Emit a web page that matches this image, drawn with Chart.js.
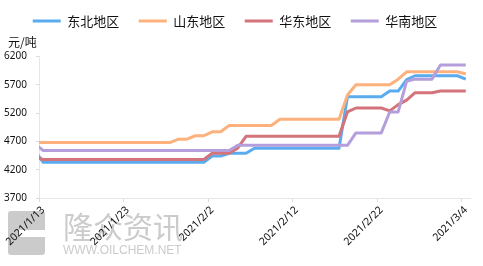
<!DOCTYPE html>
<html lang="zh">
<head>
<meta charset="UTF-8">
<title>地区价格走势</title>
<script src="https://cdn.jsdelivr.net/npm/chart.js"></script>
<style>
    * { margin: 0; padding: 0; box-sizing: border-box; }
    body { background: #fff; }
    .chart-box { position: relative; width: 483px; height: 266px; }
</style>
</head>
<body>
<div class="chart-box"><canvas id="priceChart"></canvas></div>
<script>
    // 日期（1/12 只用来画出左边被裁掉的那一小段）
    const dates = [
        '2021/1/12', '2021/1/13', '2021/1/14', '2021/1/15', '2021/1/16', '2021/1/17', '2021/1/18', '2021/1/19',
        '2021/1/20', '2021/1/21', '2021/1/22', '2021/1/23', '2021/1/24', '2021/1/25', '2021/1/26', '2021/1/27',
        '2021/1/28', '2021/1/29', '2021/1/30', '2021/1/31', '2021/2/1', '2021/2/2', '2021/2/3', '2021/2/4',
        '2021/2/5', '2021/2/6', '2021/2/7', '2021/2/8', '2021/2/9', '2021/2/10', '2021/2/11', '2021/2/12',
        '2021/2/13', '2021/2/14', '2021/2/15', '2021/2/16', '2021/2/17', '2021/2/18', '2021/2/19', '2021/2/20',
        '2021/2/21', '2021/2/22', '2021/2/23', '2021/2/24', '2021/2/25', '2021/2/26', '2021/2/27', '2021/2/28',
        '2021/3/1', '2021/3/2', '2021/3/3', '2021/3/4'
    ];

    // 价格 元/吨
    const dongbei = [
        4540,
        4330, 4330, 4330, 4330, 4330, 4330, 4330, 4330, 4330, 4330,
        4330, 4330, 4330, 4330, 4330, 4330, 4330, 4330, 4330, 4330,
        4440, 4440,
        4490, 4490, 4490,
        4580, 4580, 4580, 4580, 4580, 4580, 4580, 4580, 4580, 4580, 4580,
        5490, 5490, 5490, 5490, 5490,
        5590, 5590,
        5790,
        5860, 5860, 5860, 5860, 5860, 5860,
        5800
    ];
    const shandong = [
        4680,
        4680, 4680, 4680, 4680, 4680, 4680, 4680, 4680, 4680, 4680, 4680, 4680, 4680, 4680, 4680, 4680,
        4740, 4740,
        4800, 4800,
        4870, 4870,
        4980, 4980, 4980, 4980, 4980, 4980,
        5090, 5090, 5090, 5090, 5090, 5090, 5090, 5090,
        5520,
        5700, 5700, 5700, 5700, 5700,
        5800,
        5930, 5930, 5930, 5930, 5930, 5930, 5930,
        5890
    ];
    const huadong = [
        4420,
        4380, 4380, 4380, 4380, 4380, 4380, 4380, 4380, 4380, 4380,
        4380, 4380, 4380, 4380, 4380, 4380, 4380, 4380, 4380, 4380,
        4490, 4490, 4490,
        4580,
        4790, 4790, 4790, 4790, 4790, 4790, 4790, 4790, 4790, 4790, 4790, 4790,
        5220,
        5290, 5290, 5290, 5290,
        5240,
        5350,
        5430,
        5560, 5560, 5560,
        5590, 5590, 5590, 5590
    ];
    const huanan = [
        4660,
        4540, 4540, 4540, 4540, 4540, 4540, 4540, 4540, 4540, 4540, 4540, 4540,
        4540, 4540, 4540, 4540, 4540, 4540, 4540, 4540, 4540, 4540, 4540,
        4630, 4630, 4630, 4630, 4630, 4630, 4630, 4630, 4630, 4630, 4630, 4630, 4630, 4630,
        4850, 4850, 4850, 4850,
        5220, 5220,
        5760,
        5800, 5800, 5800,
        6050, 6050, 6050, 6050
    ];

    const seriesNames = ['东北地区', '山东地区', '华东地区', '华南地区'];
    const seriesColors = ['#5AACEE', '#FDB17D', '#D3737B', '#B49FDC'];
    const seriesData = [dongbei, shandong, huadong, huanan];

    Chart.defaults.font.family = "'Noto Sans', 'Noto Sans CJK SC', sans-serif";
    Chart.defaults.color = '#111';

    const tickGray = '#d9d9d9';
    const axisGray = '#e6e6e6';

    // 图例下面留出 "元/吨" 的位置
    const legendSpace = {
        id: 'legendSpace',
        beforeInit(chart) {
            const fit = chart.legend.fit;
            chart.legend.fit = function () {
                fit.bind(chart.legend)();
                this.height += 19;
            };
        }
    };

    // 水印和单位
    const extras = {
        id: 'extras',
        beforeDraw(chart) {
            const ctx = chart.ctx;
            ctx.save();
            ctx.fillStyle = '#cbcbcb';
            ctx.beginPath();
            ctx.roundRect(8, 211, 37, 44, 3);
            ctx.fill();
            ctx.fillStyle = '#fff';
            ctx.fillRect(19, 230, 26, 7);
            ctx.fillStyle = '#cbcbcb';
            ctx.font = "30px 'Noto Sans CJK SC'";
            ctx.textBaseline = 'middle';
            ctx.fillText('隆众资讯', 63, 227);
            ctx.font = "12px 'Liberation Sans'";
            ctx.fillText('WWW.OILCHEM.NET', 63, 251);
            ctx.restore();
        },
        afterDraw(chart) {
            const ctx = chart.ctx;
            ctx.save();
            ctx.fillStyle = '#111';
            ctx.font = "12px 'Noto Sans CJK SC'";
            ctx.textBaseline = 'middle';
            ctx.fillText('元/吨', 8, 42);
            ctx.restore();
        }
    };

    const datasets = seriesData.map((data, i) => ({
        label: seriesNames[i],
        data: data,
        borderColor: seriesColors[i],
        backgroundColor: seriesColors[i],
        borderWidth: 3,
        borderJoinStyle: 'round',
        pointRadius: 0,
        pointHoverRadius: 0,
        pointBorderWidth: 3,
        pointStyle: 'line',
        tension: 0,
        order: 3 - i
    }));

    new Chart(document.getElementById('priceChart'), {
        type: 'line',
        data: { labels: dates, datasets: datasets },
        options: {
            responsive: true,
            maintainAspectRatio: false,
            animation: false,
            layout: { padding: { top: -5, right: 13, left: 0, bottom: 0 } },
            plugins: {
                tooltip: { enabled: false },
                legend: {
                    position: 'top',
                    labels: {
                        usePointStyle: true,
                        pointStyleWidth: 28,
                        padding: 19.5,
                        color: '#111',
                        font: { size: 13, family: "'Noto Sans CJK SC', sans-serif" },
                        sort: (a, b) => a.datasetIndex - b.datasetIndex
                    }
                }
            },
            scales: {
                x: {
                    type: 'category',
                    min: '2021/1/13',
                    offset: true,
                    grid: {
                        offset: true,
                        drawOnChartArea: false,
                        tickLength: 4,
                        color: ctx => ctx.index % 10 === 0 ? tickGray : 'rgba(0,0,0,0)'
                    },
                    border: { color: axisGray },
                    ticks: {
                        autoSkip: false,
                        minRotation: 45,
                        maxRotation: 45,
                        padding: 2,
                        font: { size: 10.5 },
                        callback: function (value, index) {
                            return index % 10 === 0 ? this.getLabelForValue(value) : '';
                        }
                    },
                    afterFit(scale) { scale.height = 68; }
                },
                y: {
                    min: 3700,
                    max: 6200,
                    grid: { drawOnChartArea: false, tickLength: 3, color: tickGray },
                    border: { color: axisGray },
                    ticks: {
                        stepSize: 500,
                        padding: 9,
                        font: { size: 10 },
                        callback: value => String(value)
                    },
                    afterFit(scale) { scale.width = 39; }
                }
            }
        },
        plugins: [legendSpace, extras]
    });
</script>
</body>
</html>
